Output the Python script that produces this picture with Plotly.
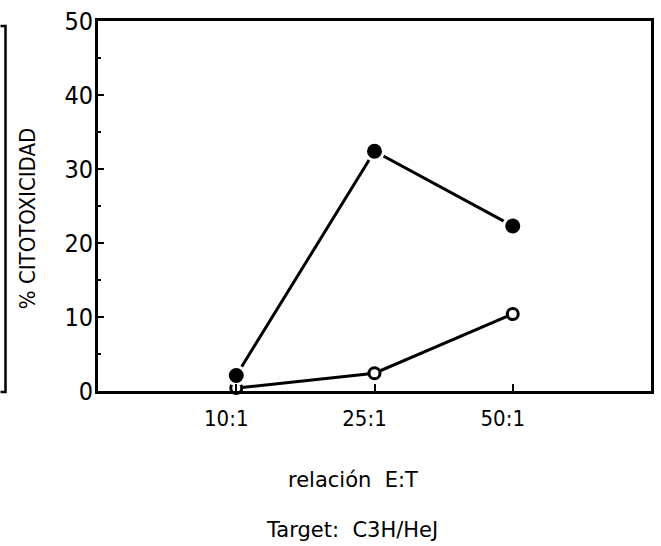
import plotly.graph_objects as go

# Effector:target ratios and % cytotoxicity for the two groups
ratios = ["10:1", "25:1", "50:1"]
ratio_pos = [1, 2, 3]
filled_vals = [2.1, 32.4, 22.3]
open_vals = [0.4, 2.4, 10.4]

y_ticks = [0, 10, 20, 30, 40, 50]

W, H = 661, 546
ML, MR, MT, MB = 98, 7, 15, 155
PW = W - ML - MR
PH = H - MT - MB


def px_x(px):
    return (px - ML) / PW


def px_y(py):
    return (H - MB - py) / PH


fig = go.Figure()

fig.add_trace(go.Scatter(
    x=ratio_pos, y=open_vals, mode="lines+markers",
    line=dict(color="black", width=3),
    marker=dict(symbol="circle", size=11, color="white",
                line=dict(color="black", width=3)),
    showlegend=False, cliponaxis=False,
))

fig.add_trace(go.Scatter(
    x=ratio_pos, y=filled_vals, mode="lines+markers",
    line=dict(color="black", width=3),
    marker=dict(symbol="circle", size=18, color="black",
                line=dict(color="white", width=3)),
    showlegend=False, cliponaxis=False,
))

cond = "DejaVu Sans Condensed, Liberation Sans Narrow, DejaVu Sans"

fig.update_xaxes(
    range=[0, 4], tickvals=ratio_pos, ticktext=ratios,
    showline=True, linecolor="black", linewidth=3, mirror=True,
    ticks="inside", ticklen=7, tickwidth=2, tickcolor="black",
    showgrid=False, zeroline=False,
    tickfont=dict(family=cond, size=22, color="black"),
    ticklabelshift=-10, ticklabelstandoff=6,
)

fig.update_yaxes(
    range=[0, 50], tickvals=y_ticks,
    showline=True, linecolor="black", linewidth=3, mirror=True,
    ticks="inside", ticklen=6, tickwidth=2, tickcolor="black",
    minor=dict(ticks="inside", ticklen=3, tickwidth=2, tickcolor="black", dtick=5),
    showgrid=False, zeroline=False,
    tickfont=dict(family=cond, size=25, color="black"),
    ticklabelstandoff=-3,
)

label_font = dict(family="DejaVu Sans", size=21, color="black")

fig.add_annotation(
    text="% CITOTOXICIDAD", xref="paper", yref="paper",
    x=px_x(27), y=px_y(216), xanchor="center", yanchor="middle",
    textangle=-90, showarrow=False,
    font=dict(family=cond, size=22, color="black"),
)
fig.add_annotation(
    text="relación&nbsp;&nbsp;E:T", xref="paper", yref="paper",
    x=px_x(354), y=px_y(481), xanchor="center", yanchor="middle",
    showarrow=False, font=label_font,
)
fig.add_annotation(
    text="Target:&nbsp;&nbsp;C3H/HeJ", xref="paper", yref="paper",
    x=px_x(353), y=px_y(532), xanchor="center", yanchor="middle",
    showarrow=False, font=label_font,
)

# Border of the neighbouring panel at the far left
fig.add_shape(
    type="path", xref="paper", yref="paper",
    path=(f"M {px_x(0)},{px_y(20)} L {px_x(5)},{px_y(20)} "
          f"L {px_x(5)},{px_y(392)} L {px_x(0)},{px_y(392)}"),
    line=dict(color="black", width=2.5),
)

fig.update_layout(
    width=W, height=H,
    margin=dict(l=ML, r=MR, t=MT, b=MB),
    paper_bgcolor="white", plot_bgcolor="white",
)

fig.write_html("out.html")
